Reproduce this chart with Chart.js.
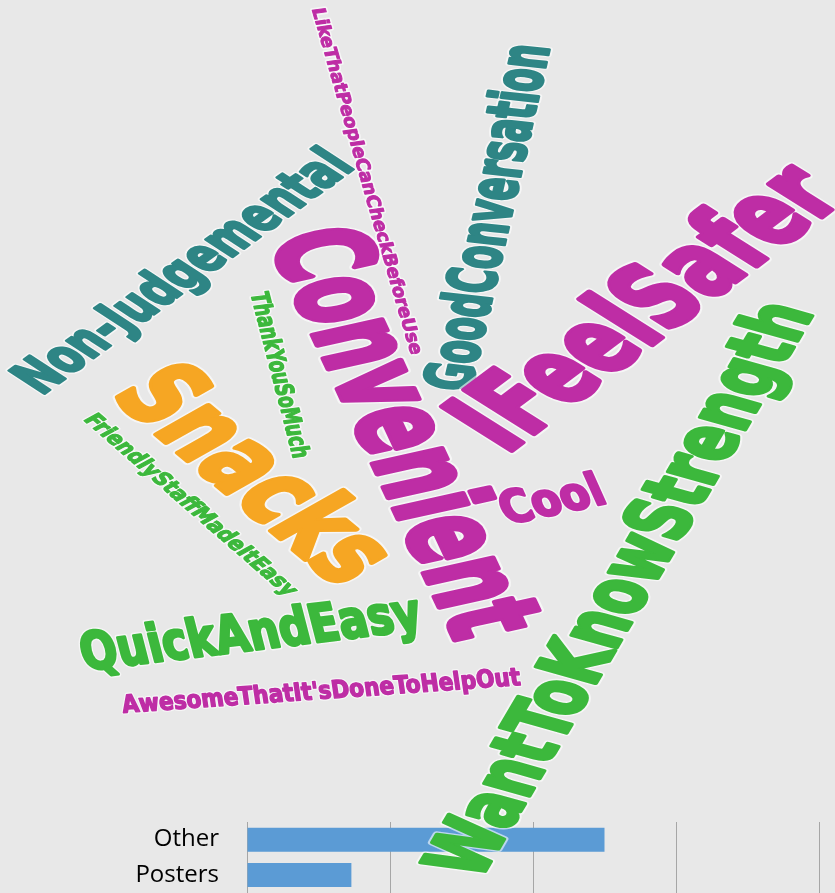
<!DOCTYPE html>
<html>
<head>
<meta charset="utf-8">
<script src="https://cdn.jsdelivr.net/npm/chart.js@4.4.1/dist/chart.umd.min.js"></script>
<style>
  html, body { margin: 0; padding: 0; background: #e8e8e8; overflow: hidden; }
  #wrap { position: relative; width: 835px; height: 893px; overflow: hidden; }
  #wrap canvas { position: absolute; left: 0; top: 0; }
</style>
</head>
<body>
<div id="wrap">
  <canvas id="bar-chart" width="835" height="893"></canvas>
  <canvas id="cloud-chart" width="835" height="893"></canvas>
</div>
<script>
// bar chart data
const categories = ['Other', 'Posters'];
const values = [25, 7.3];

// word cloud data
const words = [
  'LikeThatPeopleCanCheckBeforeUse', 'GoodConversation', 'Non-Judgemental', 'Convenient',
  'IFeelSafer', 'ThankYouSoMuch', 'Snacks', 'FriendlyStaffMadeItEasy', 'Cool',
  'WantToKnowStrength', 'QuickAndEasy', "AwesomeThatIt'sDoneToHelpOut"
];

// placement of each word on the page: centre, baseline angle, length, letter band
const cloudLayout = [
  { x: 368, y: 181, a: 74,    len: 360, band: 11, color: '#be2da5' },
  { x: 486, y: 217, a: -77,   len: 355, band: 40, color: '#2e8585' },
  { x: 181, y: 270, a: -36,   len: 389, band: 33, color: '#2e8585' },
  { x: 408, y: 431, a: 65,    len: 445, band: 76, color: '#be2da5' },
  { x: 641, y: 305, a: -37,   len: 425, band: 64, color: '#be2da5' },
  { x: 281, y: 375, a: 75.5,  len: 171, band: 15, color: '#3cb83c' },
  { x: 259, y: 472, a: 40,    len: 300, band: 62, color: '#f6a623' },
  { x: 192, y: 504, a: 41,    len: 270, band: 13, color: '#3cb83c' },
  { x: 551, y: 498, a: -12,   len: 104, band: 28, color: '#be2da5' },
  { x: 617, y: 588, a: -59.5, len: 660, band: 50, color: '#3cb83c' },
  { x: 250, y: 631, a: -7,    len: 342, band: 32, color: '#3cb83c' },
  { x: 321, y: 690, a: -4,    len: 399, band: 15, color: '#be2da5' }
];

const SX = 1.45;              // the cloud picture is stretched sideways
const XH = 0.61, CAP = 0.729; // font metrics used to size the letters

function drawBars(height) {
  const cv = document.getElementById('bar-chart');
  cv.height = height;
  cv.style.height = height + 'px';
  return new Chart(cv, {
    type: 'bar',
    data: {
      labels: categories,
      datasets: [{
        data: values,
        backgroundColor: '#5b9bd5',
        categoryPercentage: 0.8,
        barPercentage: 0.85
      }]
    },
    options: {
      indexAxis: 'y',
      responsive: false,
      animation: false,
      layout: { padding: { top: 822, right: 16, left: 0, bottom: 0 } },
      scales: {
        x: {
          min: 0, max: 40,
          ticks: { display: false, stepSize: 10 },
          grid: { color: '#a6a6a6', drawTicks: false },
          border: { display: false },
          afterFit: s => { s.height = 0; }
        },
        y: {
          grid: { display: false },
          border: { display: false },
          ticks: { color: '#000', font: { family: "'Open Sans'", size: 24 }, padding: 20 },
          afterFit: s => { s.width = 247; }
        }
      },
      plugins: { legend: { display: false }, tooltip: { enabled: false } }
    }
  });
}

let barChart = drawBars(893);
// let the plot area run down to the bottom edge of the window
const gap = barChart.height - barChart.chartArea.bottom;
if (gap > 0.5) {
  barChart.destroy();
  barChart = drawBars(893 + Math.round(gap));
}

function drawWord(ctx, text, px, py, L) {
  const t = L.a * Math.PI / 180;
  const alpha = Math.atan2(SX * Math.sin(t), Math.cos(t));
  const stretch = Math.hypot(SX * Math.cos(alpha), Math.sin(alpha));
  const len0 = L.len / stretch;
  const band0 = L.band * stretch / SX;
  const fs = band0 / XH;
  ctx.save();
  ctx.translate(px, py);
  ctx.scale(SX, 1);
  ctx.rotate(alpha);
  ctx.font = `bold ${fs}px "DejaVu Sans Condensed", "DejaVu Sans", sans-serif`;
  ctx.textAlign = 'center';
  ctx.textBaseline = 'alphabetic';
  const w = ctx.measureText(text).width;
  ctx.scale(len0 / w, 1);
  const base = CAP * fs / 2;
  ctx.lineJoin = 'round';
  ctx.strokeStyle = 'rgba(255,255,255,0.6)';
  ctx.lineWidth = 2 + fs * 0.07;
  ctx.strokeText(text, 0, base);
  ctx.strokeStyle = L.color;
  ctx.lineWidth = fs * 0.055;
  ctx.strokeText(text, 0, base);
  ctx.fillStyle = L.color;
  ctx.fillText(text, 0, base);
  ctx.restore();
}

const wordPlugin = {
  id: 'words',
  afterDatasetsDraw(chart) {
    const meta = chart.getDatasetMeta(0);
    meta.data.forEach((pt, i) => drawWord(chart.ctx, words[i], pt.x, pt.y, cloudLayout[i]));
  }
};

new Chart(document.getElementById('cloud-chart'), {
  type: 'scatter',
  data: {
    datasets: [{
      data: cloudLayout.map(p => ({ x: p.x, y: p.y })),
      pointRadius: 0
    }]
  },
  options: {
    responsive: false,
    animation: false,
    layout: { padding: 0 },
    scales: {
      x: { display: false, min: 0, max: 835 },
      y: { display: false, min: 0, max: 893, reverse: true }
    },
    plugins: { legend: { display: false }, tooltip: { enabled: false } }
  },
  plugins: [wordPlugin]
});
</script>
</body>
</html>
